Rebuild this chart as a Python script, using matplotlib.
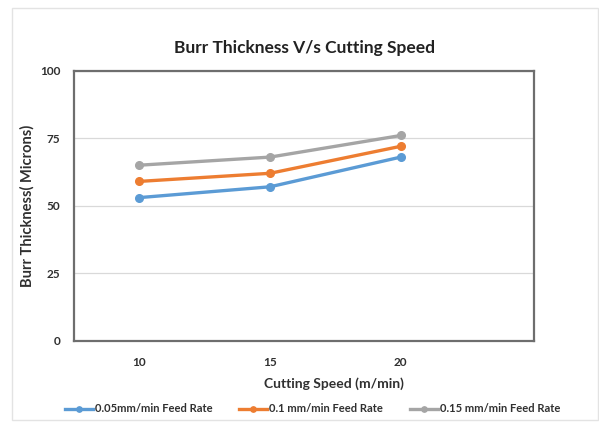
import matplotlib
matplotlib.use("Agg")
import matplotlib.pyplot as plt
from matplotlib.patches import Rectangle

speeds = ["10", "15", "20"]
feed_005 = [53, 57, 68]
feed_01 = [59, 62, 72]
feed_015 = [65, 68, 76]
series_labels = ["0.05mm/min Feed Rate", "0.1 mm/min Feed Rate", "0.15 mm/min Feed Rate"]
colors = ["#5B9BD5", "#ED7D31", "#A5A5A5"]
y_ticks = [0, 25, 50, 75, 100]

plt.rcParams['font.family'] = ['Lato', 'DejaVu Sans']

fig = plt.figure(figsize=(5.99, 4.26), dpi=100)
fig.patch.set_facecolor("white")
fig.patches.append(Rectangle((12/599, 1-420/426), (598-12)/599, (420-8)/426,
                             transform=fig.transFigure, fill=False,
                             edgecolor="#E3E3E3", linewidth=1.0))

ax = fig.add_axes([74/599, 1-340.7/426, 460/599, 270/426])
x = list(range(len(speeds)))
for vals, lab, c in zip([feed_005, feed_01, feed_015], series_labels, colors):
    ax.plot(x, vals, color=c, linewidth=2.4, marker='o', markersize=5.5, label=lab)

ax.set_xlim(-0.5, 3.02)
ax.set_ylim(0, 100)
ax.set_xticks(x)
ax.set_xticklabels(speeds)
ax.set_yticks(y_ticks)
ax.yaxis.grid(True, color="#D9D9D9", linewidth=0.9)
ax.set_axisbelow(True)
for s in ax.spines.values():
    s.set_color("#6E6E6E")
    s.set_linewidth(1.6)
ax.tick_params(axis='both', length=0, labelsize=8.5, colors="#303030")
ax.tick_params(axis='x', pad=12)
ax.tick_params(axis='y', pad=10)
for t in ax.get_xticklabels() + ax.get_yticklabels():
    t.set_fontweight('bold')

ax.set_title("Burr Thickness V/s Cutting Speed", fontsize=12.5, fontweight='bold',
             color="#222222", pad=13)
ax.set_xlabel("Cutting Speed (m/min)", fontsize=10, fontweight='bold',
              color="#303030", labelpad=6)
ax.xaxis.set_label_coords(0.565, -0.135)
ax.set_ylabel("Burr Thickness( Microns)", fontsize=10.5, fontweight='bold',
              color="#303030")
ax.yaxis.set_label_coords(-0.085, 0.5)

leg = fig.legend(loc='center', bbox_to_anchor=(0.522, 1-409/426), ncol=3,
                 frameon=False, fontsize=8, handlelength=2.5, handletextpad=0.2,
                 columnspacing=2.4, markerscale=0.7)
for t in leg.get_texts():
    t.set_fontweight('bold')
    t.set_color("#303030")

fig.savefig("out.png", dpi=100)
